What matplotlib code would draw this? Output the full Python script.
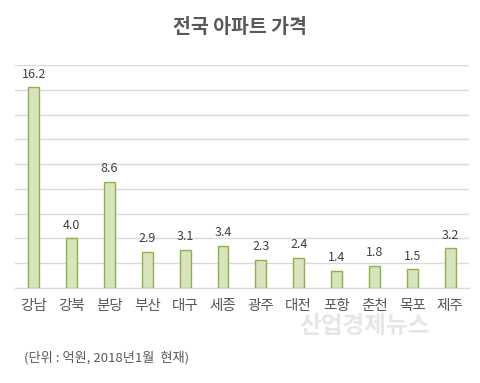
import matplotlib
matplotlib.use("Agg")
import matplotlib.pyplot as plt
import numpy as np

plt.rcParams['font.family'] = ['Noto Sans CJK KR', 'DejaVu Sans']

# data
regions = ['강남', '강북', '분당', '부산', '대구', '세종', '광주', '대전', '포항', '춘천', '목포', '제주']
prices = [16.2, 4.0, 8.6, 2.9, 3.1, 3.4, 2.3, 2.4, 1.4, 1.8, 1.5, 3.2]

fig = plt.figure(figsize=(4.8, 3.83), dpi=100)
ax = fig.add_axes([0.031, 0.248, 0.946, 0.582])

x = np.arange(len(regions))
ax.bar(x, prices, width=0.29, color='#d8e4bc', edgecolor='#8fb04f', linewidth=1.0, zorder=3)

for xi, v in zip(x, prices):
    ax.text(xi, v + 0.55, f'{v:.1f}', ha='center', va='bottom', fontsize=9, color='#404040')

ax.set_xlim(-0.5, len(regions) - 0.5)
ax.set_ylim(0, 18)
ax.set_yticks(np.arange(0, 19, 2))
ax.yaxis.grid(True, color='#d9d9d9', linewidth=1.0, zorder=0)
ax.tick_params(axis='y', left=False, labelleft=False)
ax.tick_params(axis='x', length=0, pad=8, labelsize=10.5, labelcolor='#595959')
ax.set_xticks(x)
ax.set_xticklabels(regions)
for s in ['top', 'right', 'left']:
    ax.spines[s].set_visible(False)
ax.spines['bottom'].set_color('#d9d9d9')

fig.text(0.5, 0.927, '전국 아파트 가격', ha='center', va='center', fontsize=14,
         fontweight='bold', color='#595959')
fig.text(0.76, 0.148, '산업경제뉴스', ha='center', va='center', fontsize=17,
         color='#e6e6e6', fontweight='bold')
fig.text(0.05, 0.065, '(단위 : 억원, 2018년1월  현재)', ha='left', va='center',
         fontsize=9.5, color='#595959')

fig.savefig('out.png', dpi=100)
